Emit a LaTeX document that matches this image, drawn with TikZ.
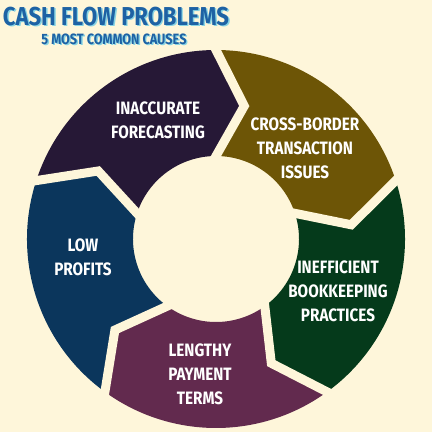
\documentclass[tikz,border=0pt]{standalone}
\usepackage{fontspec}
\usetikzlibrary{calc}
\newfontfamily\condfont{Fira Sans}[FakeStretch=0.85]
\definecolor{cream}{HTML}{FEF6DA}
\definecolor{titleblue}{HTML}{1E62A4}
\definecolor{titleshade}{HTML}{86D3E4}
\definecolor{fcpurple}{HTML}{261836}
\definecolor{fcgold}{HTML}{6D5506}
\definecolor{fcgreen}{HTML}{053A1B}
\definecolor{fcmaroon}{HTML}{622A4E}
\definecolor{fcblue}{HTML}{0B365C}
\newcommand\shadowed[1]{\makebox[0pt][l]{\hspace{1.4bp}\raisebox{-1.4bp}{\textcolor{titleshade}{#1}}}#1}
\tikzset{
  seglabel/.style={text=white,align=center,inner sep=0pt,
    font=\condfont\bfseries\fontsize{18}{24}\selectfont},
  titletext/.style={inner sep=0pt,text=titleblue,font=\condfont\bfseries\fontsize{26}{26}\selectfont},
  subtext/.style={inner sep=0pt,text=titleblue,font=\condfont\bfseries\fontsize{15}{15}\selectfont},
  gapline/.style={cream,line width=9bp,miter limit=10},
}
\begin{document}
\begin{tikzpicture}[x=1bp,y=1bp]
	\fill[cream] (0,0) rectangle (432,432);
	\useasboundingbox (0,0) rectangle (432,432);
	%% ring of chevrons
	\begin{scope}[shift={(216,193)}]
	\foreach \s/\c in {162/fcpurple,90/fcgold,18/fcgreen,-54/fcmaroon,-126/fcblue}{
		\pgfmathsetmacro\e{\s-72}
		\fill[\c] (\s:189) arc[start angle=\s,end angle=\e,radius=189]
			-- (\e-12:136) -- (\e:83) arc[start angle=\e,end angle=\s,radius=83]
			-- (\s-12:136) -- cycle;
	}
	\foreach \s in {162,90,18,-54,-126}
		\draw[gapline] ($(\s-12:136)!1.4!(\s:189)$) -- (\s-12:136) -- ($(\s-12:136)!1.4!(\s:83)$);
	\end{scope}
	%% titles
	\node (Title) at (116,415) [titletext] {\shadowed{CASH FLOW PROBLEMS}};
	\node (Sub) at (114,392) [subtext] {\shadowed{5 MOST COMMON CAUSES}};
	%% labels
	\node (Forecast) at (158,312) [seglabel] {INACCURATE\\FORECASTING};
	\node (Border) at (305,284) [seglabel] {CROSS-BORDER\\TRANSACTION\\ISSUES};
	\node (Bookkeep) at (338,141) [seglabel] {INEFFICIENT\\BOOKKEEPING\\PRACTICES};
	\node (Payment) at (200,58) [seglabel] {LENGTHY\\PAYMENT\\TERMS};
	\node (Profits) at (83,175) [seglabel] {LOW\\PROFITS};
	%
\end{tikzpicture}
\end{document}
